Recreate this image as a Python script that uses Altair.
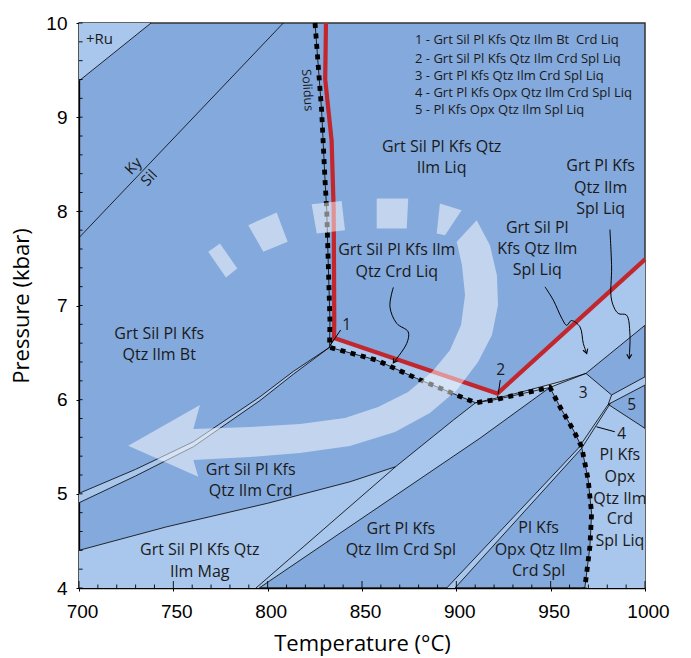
import altair as alt
import pandas as pd

# ---------------- values (T in °C, P in kbar) ----------------
T_TICKS = [700, 750, 800, 850, 900, 950, 1000]
P_TICKS = [4, 5, 6, 7, 8, 9, 10]

# light-blue assemblage fields
RU_FIELD = [(700.0, 10.0), (738.2, 10.0), (700.0, 9.385)]
BT_CRD_STRIP = [(700.0, 5.005), (730.0, 5.26), (760.6, 5.553), (795.9, 6.03), (813.6, 6.30), (832.8, 6.556),
                (813.6, 6.27), (795.9, 5.99), (760.6, 5.50), (730.0, 5.19), (700.0, 4.905)]
MAG_FIELD = [(700.0, 4.40), (746.5, 4.65), (800.0, 4.90), (843.6, 5.128), (867.8, 5.288), (793.8, 4.0), (700.0, 4.0)]
SPL_BAND = [(793.8, 4.0), (867.8, 5.288), (898.4, 5.783), (910.2, 5.967), (921.4, 6.003), (935.5, 6.067),
            (949.6, 6.13), (912.5, 5.59), (795.5, 4.0)]
CRD_LIQ_STRIP = [(832.8, 6.556), (835.2, 6.655), (921.8, 6.065), (921.8, 6.018), (910.2, 5.967),
                 (900.2, 6.049), (878.9, 6.226), (857.8, 6.42)]
SPL_LIQ_STRIP = [(921.8, 6.065), (1000.0, 7.49), (1000.0, 6.79), (968.7, 6.279), (954.9, 6.19),
                 (928.4, 6.049), (921.8, 6.018)]
FIELD_3_RIGHT = [(949.6, 6.13), (968.7, 6.279), (982.3, 6.05), (980.5, 5.95), (1000.0, 5.695), (1000.0, 4.0),
                 (968.1, 4.0), (970.8, 4.439), (971.7, 4.793), (969.9, 5.147), (966.4, 5.50), (962.0, 5.678),
                 (954.9, 5.925)]
STRIP_5 = [(982.3, 6.05), (1000.0, 6.243), (1000.0, 6.155), (980.5, 5.95)]
STRIP_4 = [(894.9, 4.0), (964.6, 5.483), (980.5, 5.95), (981.6, 5.96), (966.4, 5.483), (899.3, 4.0)]
NARROW_STRIP = [(910.2, 5.967), (928.4, 6.049), (954.9, 6.19), (968.7, 6.279), (949.6, 6.13),
                (935.5, 6.067), (921.4, 6.003)]

# field boundaries
RU_LINE = [(700.0, 9.385), (738.2, 10.0)]
KY_SIL = [(700.0, 7.72), (808.3, 10.0)]
BT_UPPER = [(700.0, 5.005), (730.0, 5.26), (760.6, 5.553), (795.9, 6.03), (813.6, 6.30), (832.8, 6.556)]
BT_LOWER = [(700.0, 4.905), (730.0, 5.19), (760.6, 5.50), (795.9, 5.99), (813.6, 6.27), (832.8, 6.556)]
MAG_LINE = [(700.0, 4.40), (746.5, 4.65), (800.0, 4.90), (843.6, 5.128), (867.8, 5.288)]
SIL_OUT_1 = [(793.8, 4.0), (867.8, 5.288), (898.4, 5.783), (910.2, 5.967)]
SIL_OUT_2 = [(795.5, 4.0), (912.5, 5.59), (949.6, 6.13)]
STRIP_TOP = [(910.2, 5.967), (928.4, 6.049), (954.9, 6.19), (968.7, 6.279)]
LINE_A = [(949.6, 6.13), (968.7, 6.279)]
LINE_B = [(968.7, 6.279), (1000.0, 6.79)]
LINE_C = [(968.7, 6.279), (982.3, 6.05)]
LINE_D = [(982.3, 6.05), (1000.0, 6.243)]
LINE_E = [(980.5, 5.95), (1000.0, 6.155)]
LINE_F = [(980.5, 5.95), (1000.0, 5.695)]
LINE_4_LEFT = [(894.9, 4.0), (964.6, 5.483), (980.5, 5.95), (982.3, 6.05)]
LINE_4_RIGHT = [(899.3, 4.0), (966.4, 5.483), (981.6, 5.96)]
UNDER_RED = [(832.8, 6.556), (835.2, 6.655), (921.8, 6.065), (1000.0, 7.49)]
POINT_2_TIE = [(921.8, 6.065), (921.8, 6.018)]

SOLIDUS = [(825.1, 10.0), (828.6, 9.07), (830.4, 8.33), (831.3, 8.01), (833.0, 6.84), (832.8, 6.556),
           (857.8, 6.42), (878.9, 6.226), (900.2, 6.049), (910.2, 5.967), (921.4, 6.003), (935.5, 6.067),
           (949.6, 6.13), (954.9, 5.925), (962.0, 5.678), (966.4, 5.50), (969.9, 5.147), (971.7, 4.793),
           (970.8, 4.439), (968.1, 4.0)]
RED_PATH = [(830.9, 10.0), (830.5, 9.4), (833.9, 8.75), (835.0, 8.01), (835.3, 6.84), (835.2, 6.655),
            (921.8, 6.065), (1000.0, 7.49)]

# translucent P-T arrow
ARROW_BODY = [(910.8, 7.906), (917.8, 7.641), (921.5, 7.322), (922.1, 7.004), (918.9, 6.686), (911.5, 6.399),
              (900.3, 6.102), (886.0, 5.858), (867.5, 5.656), (843.6, 5.507), (817.1, 5.433), (790.6, 5.391),
              (760.6, 5.359), (763.2, 5.182), (726.1, 5.511), (764.1, 5.943), (760.6, 5.688), (790.6, 5.709),
              (817.1, 5.741), (841.0, 5.805), (858.5, 5.921), (874.4, 6.081), (887.1, 6.293), (896.6, 6.526),
              (902.5, 6.792), (904.6, 7.110), (903.0, 7.428), (900.2, 7.676)]
DASH_1 = [(768.5, 7.570), (774.7, 7.659), (783.9, 7.393), (777.9, 7.298)]
DASH_2 = [(789.7, 7.853), (804.8, 7.988), (810.6, 7.676), (797.7, 7.570)]
DASH_3 = [(823.3, 8.076), (839.2, 8.111), (841.0, 7.800), (826.0, 7.765)]
DASH_4 = [(857.8, 8.136), (874.5, 8.136), (873.7, 7.818), (857.8, 7.818)]
DASH_5 = [(891.3, 8.083), (902.8, 8.012), (894.0, 7.747), (889.6, 7.765)]

# label leaders
LEADER_CRD = [(866.6, 7.192), (864.8, 6.986), (868.4, 6.81), (874.5, 6.72), (873.7, 6.597), (866.6, 6.391)]
LEADER_SIL_SPL = [(947.0, 7.198), (951.4, 7.057), (956.0, 6.86), (958.5, 6.79), (961.0, 6.84), (965.5, 6.774),
                  (967.3, 6.597), (969.1, 6.491)]
LEADER_SPL = [(981.4, 7.807), (982.3, 7.41), (982.3, 7.057), (985.8, 6.916), (990.2, 6.898), (992.0, 6.70),
              (991.6, 6.438)]
LEADER_1 = [(833.2, 6.58), (838.7, 6.74)]
LEADER_2 = [(923.3, 6.208), (922.2, 6.06)]
LEADER_4 = [(974.3, 5.712), (984.0, 5.659)]
ARROW_TIPS_T = [866.6, 969.1, 991.6]
ARROW_TIPS_P = [6.391, 6.491, 6.438]
ARROW_TIPS_DIR = [35, 341, 2]

REGION_TEXT = ["Grt Sil Pl Kfs Qtz", "Ilm Liq",
               "Grt Sil Pl Kfs Ilm", "Qtz Crd Liq",
               "Grt Pl Kfs", "Qtz Ilm", "Spl Liq",
               "Grt Sil Pl", "Kfs Qtz Ilm", "Spl Liq",
               "Grt Sil Pl Kfs", "Qtz Ilm Bt",
               "Grt Sil Pl Kfs", "Qtz Ilm Crd",
               "Grt Sil Pl Kfs Qtz", "Ilm Mag",
               "Grt Pl Kfs", "Qtz Ilm Crd Spl",
               "Pl Kfs", "Opx Qtz Ilm", "Crd Spl",
               "Pl Kfs", "Opx", "Qtz Ilm", "Crd", "Spl Liq"]
REGION_T = [892.2, 892.2,
            868.4, 868.4,
            976.5, 976.5, 976.5,
            942.9, 942.9, 942.9,
            742.5, 742.5,
            791.0, 791.0,
            764.0, 764.0,
            870.6, 870.6,
            943.6, 943.6, 943.6,
            986.7, 986.7, 986.7, 986.7, 986.7]
REGION_P = [8.678, 8.455,
            7.588, 7.357,
            8.48, 8.253, 8.02,
            7.828, 7.60, 7.375,
            6.696, 6.473,
            5.253, 5.03,
            4.40, 4.167,
            4.626, 4.403,
            4.634, 4.404, 4.184,
            5.41, 5.176, 4.948, 4.73, 4.50]

KEY_TEXT = ["1 - Grt Sil Pl Kfs Qtz Ilm Bt\u00a0 Crd Liq",
            "2 - Grt Sil Pl Kfs Qtz Ilm Crd Spl Liq",
            "3 - Grt Pl Kfs Qtz Ilm Crd Spl Liq",
            "4 - Grt Pl Kfs Opx Qtz Ilm Crd Spl Liq",
            "5 - Pl Kfs Opx Qtz Ilm Spl Liq"]
KEY_P = [9.816, 9.622, 9.437, 9.257, 9.073]
KEY_T = 878.1

NUM_TEXT = ["1", "2", "3", "4", "5"]
NUM_T = [841.9, 923.5, 967.3, 987.6, 992.9]
NUM_P = [6.792, 6.314, 6.067, 5.64, 5.942]

# ---------------- styling ----------------
DARK = "#84a9dc"
LIGHT = "#a9c6ec"
PALE = "#c8daf2"
RED = "#c1272d"
FONT = "Open Sans"
NUM_FONT = "Liberation Sans"


def poly_frame(groups):
    rows = []
    for name, pts in groups.items():
        for i, (t, p) in enumerate(pts):
            rows.append({"id": name, "i": i, "T": t, "P": p})
    return pd.DataFrame(rows)


x_enc = alt.X("T:Q",
              scale=alt.Scale(domain=[700, 1000], nice=False, zero=False),
              axis=alt.Axis(values=T_TICKS, format="d", title="Temperature (°C)", tickSize=3, labelPadding=11,
                            labelFlush=False, labelFont=NUM_FONT, labelFontSize=19, labelOffset=3,
                            titleFont=FONT, titleFontSize=22, titleFontWeight="normal", titlePadding=12,
                            grid=False, domainColor="black", domainWidth=1.3, tickColor="black",
                            labelColor="black", titleColor="black"))
y_enc = alt.Y("P:Q",
              scale=alt.Scale(domain=[4, 10], nice=False, zero=False),
              axis=alt.Axis(values=P_TICKS, format="d", title="Pressure (kbar)", tickSize=3, labelPadding=9,
                            labelFont=NUM_FONT, labelFontSize=19, labelFlush=False,
                            titleFont=FONT, titleFontSize=22, titleFontWeight="normal", titlePadding=12,
                            grid=False, domainColor="black", domainWidth=1.3, tickColor="black",
                            labelColor="black", titleColor="black"))


def shapes(groups, **mark):
    return alt.Chart(poly_frame(groups)).mark_line(interpolate="linear", **mark).encode(
        x=x_enc, y=y_enc, detail="id:N", order="i:Q")


light = shapes({"ru": RU_FIELD, "bt": BT_CRD_STRIP, "mag": MAG_FIELD, "spl": SPL_BAND,
                "crd": CRD_LIQ_STRIP, "splliq": SPL_LIQ_STRIP, "f3": FIELD_3_RIGHT,
                "s5": STRIP_5, "s4": STRIP_4},
               fill=LIGHT, strokeWidth=0, strokeOpacity=0)
pale = shapes({"narrow": NARROW_STRIP}, fill=PALE, strokeWidth=0, strokeOpacity=0)

boundaries = shapes({"ru": RU_LINE, "kysil": KY_SIL, "btu": BT_UPPER, "btl": BT_LOWER, "mag": MAG_LINE,
                     "s1": SIL_OUT_1, "s2": SIL_OUT_2, "st": STRIP_TOP, "a": LINE_A, "b": LINE_B,
                     "c": LINE_C, "d": LINE_D, "e": LINE_E, "f": LINE_F, "l4l": LINE_4_LEFT,
                     "l4r": LINE_4_RIGHT, "ur": UNDER_RED, "p2": POINT_2_TIE, "sol": SOLIDUS},
                    color="black", strokeWidth=0.8)

red = shapes({"red": RED_PATH}, color=RED, strokeWidth=4.2, strokeJoin="miter", strokeCap="butt")
dashed = shapes({"sol": SOLIDUS}, color="black", strokeWidth=4.8, strokeDash=[5, 5.5], strokeCap="butt")

arrow = shapes({"body": ARROW_BODY, "d1": DASH_1, "d2": DASH_2, "d3": DASH_3, "d4": DASH_4, "d5": DASH_5},
               fill="white", fillOpacity=0.5, strokeWidth=0, strokeOpacity=0)

leaders = alt.Chart(poly_frame({"crd": LEADER_CRD, "silspl": LEADER_SIL_SPL, "spl": LEADER_SPL})).mark_line(
    interpolate="catmull-rom", color="black", strokeWidth=1).encode(
    x=x_enc, y=y_enc, detail="id:N", order="i:Q")
short_leaders = shapes({"l1": LEADER_1, "l2": LEADER_2, "l4": LEADER_4}, color="black", strokeWidth=1)

tips = alt.Chart(pd.DataFrame({"T": ARROW_TIPS_T, "P": ARROW_TIPS_P, "a": ARROW_TIPS_DIR})).mark_point(
    shape="M-0.6,-1L0,0L0.6,-1", filled=False, color="black", strokeWidth=1.1, size=70, opacity=1).encode(
    x=x_enc, y=y_enc, angle=alt.Angle("a:Q", scale=None))

# inner minor ticks
x_minor = pd.DataFrame({"T": list(range(700, 1001, 10))})
x_minor["P"] = 4.0
x_minor["P2"] = [4.074 if t % 50 == 0 else 4.037 for t in x_minor["T"]]
y_vals = [round(4 + 0.2 * k, 1) for k in range(31)]
y_minor = pd.DataFrame({"P": y_vals, "T": 700.0, "T2": 701.9})
xt = alt.Chart(x_minor).mark_rule(color="black", strokeWidth=0.9).encode(x=x_enc, y=y_enc, y2="P2:Q")
yt = alt.Chart(y_minor).mark_rule(color="black", strokeWidth=0.9).encode(x=x_enc, x2="T2:Q", y=y_enc)

regions = alt.Chart(pd.DataFrame({"t": REGION_TEXT, "T": REGION_T, "P": REGION_P})).mark_text(
    font=FONT, fontSize=16, color="#1a1a1a", baseline="middle", align="center").encode(
    x=x_enc, y=y_enc, text="t:N")
key = alt.Chart(pd.DataFrame({"t": KEY_TEXT, "P": KEY_P, "T": KEY_T})).mark_text(
    font=FONT, fontSize=13, color="#1a1a1a", baseline="middle", align="left").encode(
    x=x_enc, y=y_enc, text="t:N")
nums = alt.Chart(pd.DataFrame({"t": NUM_TEXT, "T": NUM_T, "P": NUM_P})).mark_text(
    font=FONT, fontSize=15.5, color="#1a1a1a", baseline="middle", align="center").encode(
    x=x_enc, y=y_enc, text="t:N")
ru = alt.Chart(pd.DataFrame({"t": ["+Ru"], "T": [703.7], "P": [9.825]})).mark_text(
    font=FONT, fontSize=15, color="#1a1a1a", baseline="middle", align="left").encode(
    x=x_enc, y=y_enc, text="t:N")
kysil = alt.Chart(pd.DataFrame({"t": ["Ky", "Sil"], "T": [728.8, 737.1], "P": [8.482, 8.355]})).mark_text(
    font=FONT, fontSize=15, color="#1a1a1a", baseline="middle", align="center", angle=313).encode(
    x=x_enc, y=y_enc, text="t:N")
solidus_lbl = alt.Chart(pd.DataFrame({"t": ["Solidus"], "T": [821.1], "P": [9.286]})).mark_text(
    font=FONT, fontSize=12.5, color="#1a1a1a", baseline="middle", align="center", angle=86).encode(
    x=x_enc, y=y_enc, text="t:N")

chart = alt.layer(
    light, pale, boundaries, red, dashed, arrow, xt, yt,
    leaders, short_leaders, tips, regions, key, nums, ru, kysil, solidus_lbl
).properties(
    width=566, height=565,
    padding={"left": 79, "top": 23, "right": 46, "bottom": 70},
    autosize=alt.AutoSizeParams(type="none"),
    background="white",
).configure_view(
    fill=DARK, stroke="#333333", strokeWidth=1.5
)

chart.save("out.html", embed_options={"renderer": "svg", "actions": False})
